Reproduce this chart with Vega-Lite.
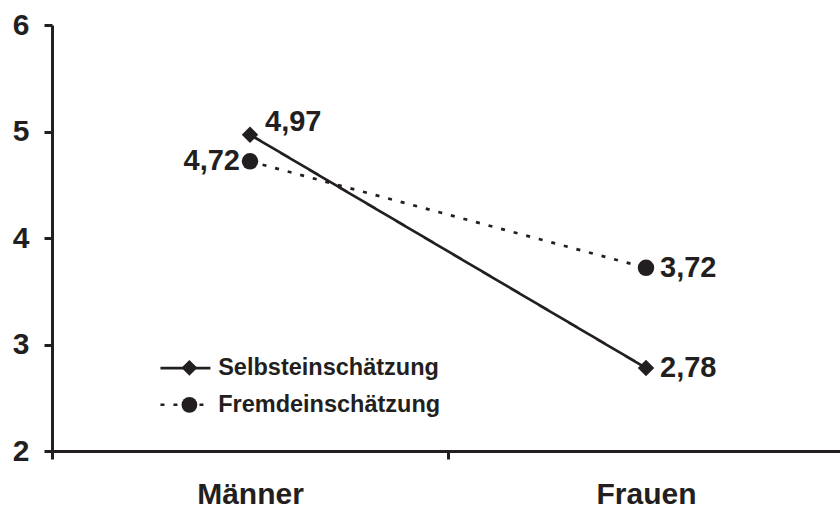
{
  "$schema": "https://vega.github.io/schema/vega-lite/v6.json",
  "width": 788,
  "height": 426,
  "autosize": {"type": "none"},
  "padding": {"left": 52, "top": 25, "right": 0, "bottom": 58},
  "background": "white",
  "config": {
    "view": {"stroke": null},
    "font": "Liberation Sans",
    "locale": {"number": {"decimal": ",", "thousands": ".", "grouping": [3], "currency": ["", " €"]}}
  },
  "data": {
    "values": [
      {"Geschlecht": "Männer", "Einschätzung": "Selbsteinschätzung", "Wert": 4.97},
      {"Geschlecht": "Frauen", "Einschätzung": "Selbsteinschätzung", "Wert": 2.78},
      {"Geschlecht": "Männer", "Einschätzung": "Fremdeinschätzung", "Wert": 4.72},
      {"Geschlecht": "Frauen", "Einschätzung": "Fremdeinschätzung", "Wert": 3.72}
    ]
  },
  "encoding": {
    "x": {
      "field": "Geschlecht",
      "type": "nominal",
      "sort": ["Männer", "Frauen"],
      "scale": {"paddingInner": 0, "paddingOuter": 0, "range": [0, 792]},
      "axis": {
        "title": null,
        "labelAngle": 0,
        "tickBand": "extent",
        "tickSize": 8,
        "tickWidth": 3,
        "tickColor": "#231f20",
        "domainColor": "#231f20",
        "domainWidth": 3,
        "labelFont": "Liberation Sans",
        "labelFontSize": 30,
        "labelFontWeight": "bold",
        "labelColor": "#231f20",
        "labelPadding": 20,
        "grid": false
      }
    },
    "y": {
      "field": "Wert",
      "type": "quantitative",
      "scale": {"domain": [2, 6], "nice": false, "zero": false},
      "axis": {
        "title": null,
        "values": [2, 3, 4, 5, 6],
        "tickSize": 8,
        "tickWidth": 3,
        "tickColor": "#231f20",
        "domainColor": "#231f20",
        "domainWidth": 3,
        "labelFont": "Liberation Sans",
        "labelFontSize": 30,
        "labelFontWeight": "bold",
        "labelColor": "#231f20",
        "labelPadding": 15,
        "grid": false
      }
    }
  },
  "layer": [
    {
      "mark": {"type": "line", "color": "#231f20", "strokeWidth": 2.7},
      "encoding": {
        "strokeDash": {
          "field": "Einschätzung",
          "type": "nominal",
          "scale": {"domain": ["Fremdeinschätzung", "Selbsteinschätzung"], "range": [[4, 9], [1, 0]]},
          "legend": {
            "title": null,
            "values": ["Selbsteinschätzung", "Fremdeinschätzung"],
            "orient": "none",
            "legendX": 121.7,
            "legendY": 331.4,
            "padding": 0,
            "symbolType": "M-5,0H5",
            "symbolSize": 100,
            "symbolStrokeWidth": 2.7,
            "symbolStrokeColor": "#231f20",
            "labelFont": "Liberation Sans",
            "labelFontSize": 23.5,
            "labelFontWeight": "bold",
            "labelColor": "#231f20",
            "labelOffset": 21,
            "labelLimit": 400,
            "rowPadding": 11.6
          }
        }
      }
    },
    {
      "mark": {"type": "point", "filled": true, "opacity": 1, "size": 270, "color": "#231f20"},
      "encoding": {
        "shape": {
          "field": "Einschätzung",
          "type": "nominal",
          "scale": {"domain": ["Selbsteinschätzung", "Fremdeinschätzung"], "range": ["diamond", "circle"]},
          "legend": {
            "title": null,
            "orient": "none",
            "legendX": 128.4,
            "legendY": 333.8,
            "padding": 0,
            "symbolSize": 250,
            "symbolFillColor": "#231f20",
            "symbolStrokeColor": "#231f20",
            "symbolOpacity": 1,
            "labelExpr": "''",
            "rowPadding": 15
          }
        }
      }
    },
    {
      "transform": [{"filter": "datum.Geschlecht == 'Männer' && datum.Einschätzung == 'Selbsteinschätzung'"}],
      "mark": {"type": "text", "align": "left", "baseline": "middle", "dx": 15, "dy": -13, "fontSize": 29, "fontWeight": "bold", "font": "Liberation Sans", "color": "#231f20"},
      "encoding": {"text": {"field": "Wert", "type": "quantitative", "format": ".2f"}}
    },
    {
      "transform": [{"filter": "datum.Geschlecht == 'Männer' && datum.Einschätzung == 'Fremdeinschätzung'"}],
      "mark": {"type": "text", "align": "right", "baseline": "middle", "dx": -10, "fontSize": 29, "fontWeight": "bold", "font": "Liberation Sans", "color": "#231f20"},
      "encoding": {"text": {"field": "Wert", "type": "quantitative", "format": ".2f"}}
    },
    {
      "transform": [{"filter": "datum.Geschlecht == 'Frauen'"}],
      "mark": {"type": "text", "align": "left", "baseline": "middle", "dx": 14, "fontSize": 29, "fontWeight": "bold", "font": "Liberation Sans", "color": "#231f20"},
      "encoding": {"text": {"field": "Wert", "type": "quantitative", "format": ".2f"}}
    }
  ]
}
